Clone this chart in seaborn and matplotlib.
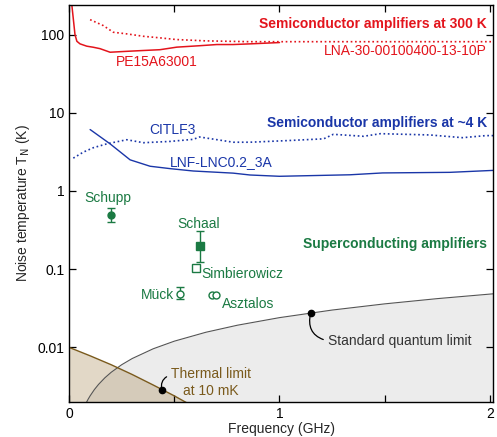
import matplotlib
matplotlib.use("Agg")
import matplotlib.pyplot as plt
import seaborn as sns
from matplotlib.ticker import FixedLocator, NullLocator

# ── Data ──
pe15_f = [0.010, 0.013, 0.028, 0.037, 0.052, 0.084, 0.115, 0.147, 0.195, 0.274, 0.352,
          0.432, 0.512, 0.622, 0.702, 0.779, 0.86, 1.0]
pe15_T = [300, 240, 100, 82, 76, 71, 68.8, 66, 59.4, 61, 62.5, 64, 69, 72, 74.5, 74.5, 76, 79]

lna_f = [0.10, 0.163, 0.21, 0.274, 0.353, 0.432, 0.51, 0.65, 0.86, 1.0, 1.3, 1.6, 2.05]
lna_T = [155, 130, 107, 102, 95, 90.7, 86.3, 83, 81, 81, 81, 81, 81]

citlf3_f = [0.02, 0.068, 0.115, 0.179, 0.274, 0.353, 0.48, 0.59, 0.62, 0.78, 0.86, 1.034,
            1.21, 1.256, 1.40, 1.48, 1.715, 1.87, 1.98, 2.05]
citlf3_T = [2.63, 3.14, 3.57, 4.0, 4.52, 4.14, 4.3, 4.57, 4.9, 4.2, 4.2, 4.4,
            4.64, 5.3, 5.0, 5.4, 5.2, 4.8, 5.1, 5.1]

lnf_f = [0.10, 0.195, 0.29, 0.385, 0.48, 0.59, 0.78, 0.86, 1.0, 1.335, 1.49, 1.81, 2.05]
lnf_T = [6.1, 4.0, 2.5, 2.07, 1.93, 1.8, 1.69, 1.6, 1.54, 1.61, 1.70, 1.73, 1.85]

sql_f = [0.08, 0.09, 0.10, 0.12, 0.14, 0.17, 0.20, 0.25, 0.30, 0.40, 0.50, 0.65, 0.80,
         1.0, 1.25, 1.5, 1.75, 2.0, 2.05]
sql_T = [0.00192, 0.00216, 0.0024, 0.00288, 0.00336, 0.00408, 0.0048, 0.006, 0.0072,
         0.0096, 0.012, 0.0156, 0.0192, 0.024, 0.030, 0.036, 0.042, 0.048, 0.0492]

thermal_f = [0.0, 0.1, 0.2, 0.3, 0.4, 0.5, 0.6]
thermal_T = [0.0100, 0.0078, 0.0060, 0.0045, 0.0033, 0.0024, 0.0017]

# superconducting amplifiers: name, f (GHz), T (K), err low, err high
sc_names = ["Schupp", "Schaal", "Simbierowicz", "Mück", "Asztalos", "Asztalos"]
sc_f = [0.201, 0.622, 0.602, 0.527, 0.678, 0.700]
sc_T = [0.50, 0.20, 0.104, 0.048, 0.047, 0.047]
sc_err_lo = [0.10, 0.075, 0, 0.007, 0, 0]
sc_err_hi = [0.10, 0.105, 0, 0.011, 0, 0]

sql_mark = (1.148, 0.0274)
thermal_mark = (0.44, 0.00287)

RED = "#e3141c"
BLUE = "#1a36a8"
GREEN = "#1b7a43"
BROWN = "#7a5a1c"

sns.set_style("ticks")
plt.rcParams["font.family"] = ["Liberation Sans", "DejaVu Sans"]
plt.rcParams["font.size"] = 10

fig, ax = plt.subplots(figsize=(4.97, 4.37), dpi=100)
fig.subplots_adjust(left=0.139, right=0.992, top=0.989, bottom=0.080)

# ── Shaded limits ──
ax.fill_between(sql_f, sql_T, 1e-4, color="#ececec", lw=0, zorder=0)
ax.fill_between(thermal_f, thermal_T, 1e-4, color=(0.635, 0.502, 0.282), alpha=0.3,
                lw=0, zorder=0.5)
sns.lineplot(x=sql_f, y=sql_T, ax=ax, color="#555555", lw=0.8, zorder=1)
sns.lineplot(x=thermal_f, y=thermal_T, ax=ax, color=BROWN, lw=1.0, zorder=1)

# ── Semiconductor amplifiers ──
sns.lineplot(x=pe15_f, y=pe15_T, ax=ax, color=RED, lw=1.1)
sns.lineplot(x=lna_f, y=lna_T, ax=ax, color=RED, lw=1.2, linestyle=(0, (1, 1.6)))
sns.lineplot(x=citlf3_f, y=citlf3_T, ax=ax, color=BLUE, lw=1.2, linestyle=(0, (1, 1.6)))
sns.lineplot(x=lnf_f, y=lnf_T, ax=ax, color=BLUE, lw=1.0)

# ── Superconducting amplifiers ──
styles = [("o", GREEN), ("s", GREEN), ("s", "white"), ("o", "white"), ("o", "white"), ("o", "white")]
for i, (mk, fc) in enumerate(styles):
    yerr = None
    if sc_err_hi[i] > 0:
        yerr = [[sc_err_lo[i]], [sc_err_hi[i]]]
    ax.errorbar(sc_f[i], sc_T[i], yerr=yerr, fmt=mk, ms=5.5 if mk == "s" else 5,
                mfc=fc, mec=GREEN, mew=1.0, ecolor=GREEN, elinewidth=1.0,
                capsize=3, capthick=1.0, zorder=3)

ax.plot(*sql_mark, "o", color="black", ms=4.5, zorder=4)
ax.plot(*thermal_mark, "o", color="black", ms=4.5, zorder=4)

# ── Labels ──
ax.text(1.986, 137, "Semiconductor amplifiers at 300 K", color=RED, weight="bold",
        ha="right", va="center")
ax.text(1.986, 62.5, "LNA-30-00100400-13-10P", color=RED, ha="right", va="center")
ax.text(0.418, 44, "PE15A63001", color=RED, ha="center", va="center")
ax.text(1.986, 7.3, "Semiconductor amplifiers at ~4 K", color=BLUE, weight="bold",
        ha="right", va="center")
ax.text(0.489, 5.94, "CITLF3", color=BLUE, ha="center", va="center")
ax.text(0.48, 2.34, "LNF-LNC0.2_3A", color=BLUE, ha="left", va="center")
ax.text(1.986, 0.208, "Superconducting amplifiers", color=GREEN, weight="bold",
        ha="right", va="center")
ax.text(0.185, 0.81, "Schupp", color=GREEN, ha="center", va="center")
ax.text(0.618, 0.374, "Schaal", color=GREEN, ha="center", va="center")
ax.text(0.63, 0.0855, "Simbierowicz", color=GREEN, ha="left", va="center")
ax.text(0.499, 0.047, "Mück", color=GREEN, ha="right", va="center")
ax.text(0.725, 0.0363, "Asztalos", color=GREEN, ha="left", va="center")

ax.annotate("Standard quantum limit", xy=sql_mark, xytext=(1.23, 0.0121),
            color="#333333", ha="left", va="center",
            arrowprops=dict(arrowstyle="-", color="black", lw=0.9, relpos=(0, 0.5),
                            connectionstyle="arc3,rad=-0.5", shrinkA=1, shrinkB=0))
ax.annotate("Thermal limit\nat 10 mK", xy=thermal_mark, xytext=(0.675, 0.00356),
            color=BROWN, ha="center", va="center", multialignment="center",
            arrowprops=dict(arrowstyle="-", color="black", lw=0.9, relpos=(0, 0.75),
                            connectionstyle="arc3,rad=0.45", shrinkA=1, shrinkB=0))

# ── Axes ──
ax.set_yscale("log")
ax.set_xlim(0, 2.015)
ax.set_ylim(0.002, 240)
ax.xaxis.set_major_locator(FixedLocator([0, 0.5, 1, 1.5, 2]))
ax.set_xticklabels(["0", "", "1", "", "2"])
ax.yaxis.set_major_locator(FixedLocator([0.01, 0.1, 1, 10, 100]))
ax.set_yticklabels(["0.01", "0.1", "1", "10", "100"])
ax.yaxis.set_minor_locator(NullLocator())
ax.tick_params(direction="in", top=True, right=True, length=5, width=0.9,
               labelsize=10, colors="black")
for s in ax.spines.values():
    s.set_linewidth(1.0)
    s.set_color("black")
ax.set_xlabel("Frequency (GHz)", fontsize=10, labelpad=1)
ax.set_ylabel("Noise temperature T$_\\mathrm{N}$ (K)", fontsize=10)

fig.savefig("out.png", dpi=100)
